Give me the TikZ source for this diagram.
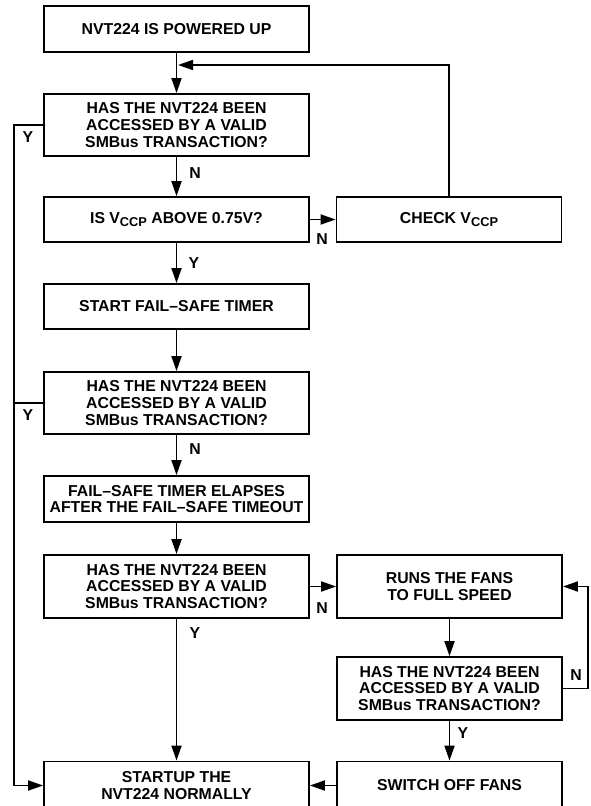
\documentclass[tikz,border=0pt]{standalone}
\usepackage{fontspec}
\setmainfont{Liberation Sans}
\usetikzlibrary{arrows.meta}
\newcommand{\vsub}[1]{\raisebox{-0.45ex}{\fontsize{6.4}{6}\selectfont #1}}

\begin{document}
\begin{tikzpicture}[x=0.5pt,y=-0.5pt,
  box/.style={draw, line width=0.9pt, minimum width=132.5pt, align=center,
    inner sep=0pt, font=\fontsize{7.9}{8.3}\selectfont\bfseries},
  lab/.style={font=\fontsize{7.9}{8}\selectfont\bfseries},
  arr/.style={line width=0.9pt, -{Triangle[length=7.5pt,width=5pt]}}]
\useasboundingbox (0,0) rectangle (590,806);
% left column
\node[box, minimum height=23pt] (pwr) at (176.5,29) {NVT224 IS POWERED UP};
\node[box, minimum height=31pt] (acc1) at (176.5,125) {HAS THE NVT224 BEEN\\ACCESSED BY A VALID\\SMBus TRANSACTION?};
\node[box, minimum height=22.5pt] (vccp) at (176.5,219.5) {IS V\vsub{CCP} ABOVE 0.75V?};
\node[box, minimum height=22.5pt] (start) at (176.5,306.5) {START FAIL--SAFE TIMER};
\node[box, minimum height=31pt] (acc2) at (176.5,403) {HAS THE NVT224 BEEN\\ACCESSED BY A VALID\\SMBus TRANSACTION?};
\node[box, minimum height=23pt] (lapse) at (176.5,499) {FAIL--SAFE TIMER ELAPSES\\AFTER THE FAIL--SAFE TIMEOUT};
\node[box, minimum height=31.5pt] (acc3) at (176.5,586.5) {HAS THE NVT224 BEEN\\ACCESSED BY A VALID\\SMBus TRANSACTION?};
\node[box, minimum height=24pt] (norm) at (176.5,785.5) {STARTUP THE\\NVT224 NORMALLY};
% right column
\node[box, minimum width=112.5pt, minimum height=22.5pt] (chk) at (449,219.5) {CHECK V\vsub{CCP}};
\node[box, minimum width=112.5pt, minimum height=31.5pt] (run) at (449.5,586.5) {RUNS THE FANS\\TO FULL SPEED};
\node[box, minimum width=112.5pt, minimum height=31.5pt] (acc4) at (449.5,688.5) {HAS THE NVT224 BEEN\\ACCESSED BY A VALID\\SMBus TRANSACTION?};
\node[box, minimum width=112.5pt, minimum height=24pt] (off) at (449.5,785.5) {SWITCH OFF FANS};
\coordinate (yb) at (14,125);
\coordinate (back) at (178,65);
\coordinate (rt) at (588,688.5);
% connectors
\draw[arr] (pwr) -- (acc1);
\draw[arr] (acc1) -- (vccp);
\draw[arr] (vccp) -- (start);
\draw[arr] (start) -- (acc2);
\draw[arr] (acc2) -- (lapse);
\draw[arr] (lapse) -- (acc3);
\draw[arr] (acc3) -- (norm);
\draw[arr] (vccp) -- (chk);
\draw[arr] (chk.north) |- (back);
\draw[arr] (acc3) -- (run);
\draw[arr] (run) -- (acc4);
\draw[arr] (acc4) -- (off);
\draw[arr] (off) -- (norm);
\draw[arr] (acc4.east) -- (rt) |- (run.east);
\draw[arr] (acc1.west) -- (yb) |- (norm.west);
\draw[line width=0.9pt] (acc2.west) -- (acc2.west -| yb);
% labels
\node[lab] at (28,137) {Y};
\node[lab] at (28,415) {Y};
\node[lab] at (195,173) {N};
\node[lab] at (194,263) {Y};
\node[lab] at (195,449) {N};
\node[lab] at (195,633) {Y};
\node[lab] at (322,239) {N};
\node[lab] at (322,608) {N};
\node[lab] at (576,675) {N};
\node[lab] at (463,733) {Y};
\end{tikzpicture}
\end{document}
